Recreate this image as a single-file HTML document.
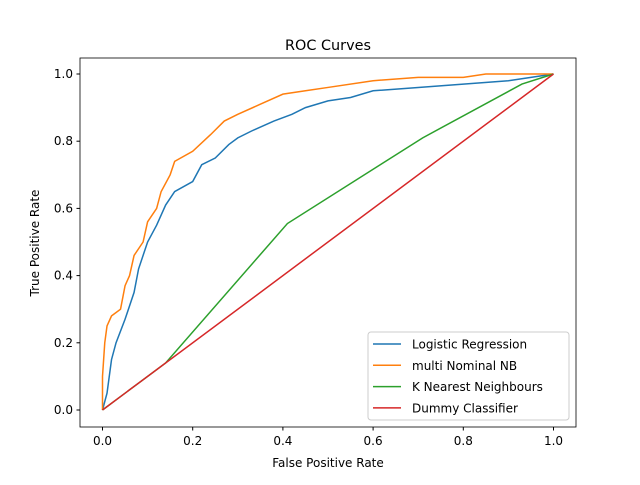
<!DOCTYPE html>
<html><head><meta charset="utf-8"><style>
body{margin:0;background:#fff}
svg{font-family:"DejaVu Sans","Liberation Sans",sans-serif}
</style></head><body>
<svg id="chart" width="640" height="480" xmlns="http://www.w3.org/2000/svg">
<rect width="640" height="480" fill="#fff"/>
<text x="328" y="50" font-size="14.4" text-anchor="middle">ROC Curves</text>
<g id="ticks"></g>
<g id="series"></g>
<rect x="80" y="58" width="496" height="369" fill="none" stroke="#000" stroke-width="0.8"/>
<text x="328" y="467" font-size="12" text-anchor="middle">False Positive Rate</text>
<text x="0" y="0" font-size="12" text-anchor="middle" transform="translate(39,243) rotate(-90)">True Positive Rate</text>
<g>
<rect x="368" y="332" width="201" height="88" rx="3" fill="#fff" fill-opacity="0.8" stroke="#ccc"/>
<g id="legend-items"></g>
</g>
</svg>
<script>
const seriesNames = ["Logistic Regression","multi Nominal NB","K Nearest Neighbours","Dummy Classifier"];
const colors = ["#1f77b4","#ff7f0e","#2ca02c","#d62728"];
const lrFpr = [0,0.01,0.02,0.03,0.05,0.07,0.08,0.1,0.12,0.14,0.16,0.2,0.22,0.25,0.28,0.3,0.33,0.38,0.42,0.45,0.5,0.55,0.6,0.7,0.8,0.9,0.95,1];
const lrTpr = [0,0.05,0.15,0.2,0.27,0.35,0.42,0.5,0.55,0.61,0.65,0.68,0.73,0.75,0.79,0.81,0.83,0.86,0.88,0.9,0.92,0.93,0.95,0.96,0.97,0.98,0.99,1];
const nbFpr = [0,0,0.005,0.01,0.02,0.04,0.05,0.06,0.07,0.09,0.1,0.12,0.13,0.15,0.16,0.2,0.24,0.27,0.3,0.35,0.4,0.45,0.5,0.6,0.7,0.8,0.85,1];
const nbTpr = [0,0.1,0.2,0.25,0.28,0.3,0.37,0.4,0.46,0.5,0.56,0.6,0.65,0.7,0.74,0.77,0.82,0.86,0.88,0.91,0.94,0.95,0.96,0.98,0.99,0.99,1,1];
const knnFpr = [0,0.14,0.41,0.71,0.93,1];
const knnTpr = [0,0.14,0.555,0.81,0.97,1];
const dumFpr = [0,1];
const dumTpr = [0,1];
const tickVals = [0,0.2,0.4,0.6,0.8,1.0];
const tickLabels = ["0.0","0.2","0.4","0.6","0.8","1.0"];

const NS="http://www.w3.org/2000/svg";
const X = v => 102.5 + v*451;
const Y = v => 410 - v*336;
const tg = document.getElementById('ticks');
tickVals.forEach((t,i)=>{
  let l=document.createElementNS(NS,'line');
  l.setAttribute('x1',X(t));l.setAttribute('x2',X(t));l.setAttribute('y1',427);l.setAttribute('y2',430.5);l.setAttribute('stroke','#000');
  
  
  tg.appendChild(l);
  let tx=document.createElementNS(NS,'text');
  tx.setAttribute('x',X(t));tx.setAttribute('y',445);tx.setAttribute('font-size','12');tx.setAttribute('text-anchor','middle');tx.textContent=tickLabels[i];
  
  
  tg.appendChild(tx);
  let l2=document.createElementNS(NS,'line');
  l2.setAttribute('x1',76.5);l2.setAttribute('x2',80);l2.setAttribute('y1',Y(t));l2.setAttribute('y2',Y(t));l2.setAttribute('stroke','#000');
  
  
  tg.appendChild(l2);
  let ty=document.createElementNS(NS,'text');
  ty.setAttribute('x',73);ty.setAttribute('y',Y(t)+4);ty.setAttribute('font-size','12');ty.setAttribute('text-anchor','end');ty.textContent=tickLabels[i];
  
  
  tg.appendChild(ty);
});
const sg=document.getElementById('series');
const all=[[lrFpr,lrTpr],[nbFpr,nbTpr],[knnFpr,knnTpr],[dumFpr,dumTpr]];
all.forEach((s,i)=>{
  let p=document.createElementNS(NS,'polyline');
  p.setAttribute('points',s[0].map((x,j)=>X(x)+','+Y(s[1][j])).join(' '));
  p.setAttribute('fill','none');p.setAttribute('stroke',colors[i]);p.setAttribute('stroke-width','1.5');
  
  
  sg.appendChild(p);
});
const lg=document.getElementById('legend-items');
seriesNames.forEach((n,i)=>{
  const y=344+i*21.3;
  let l=document.createElementNS(NS,'line');
  l.setAttribute('x1',373);l.setAttribute('x2',401);l.setAttribute('y1',y);l.setAttribute('y2',y);l.setAttribute('stroke',colors[i]);l.setAttribute('stroke-width','1.5');
  
  
  lg.appendChild(l);
  let t=document.createElementNS(NS,'text');
  t.setAttribute('x',412);t.setAttribute('y',y+4.5);t.setAttribute('font-size','12');t.textContent=n;
  
  
  lg.appendChild(t);
});
</script>
</body></html>
